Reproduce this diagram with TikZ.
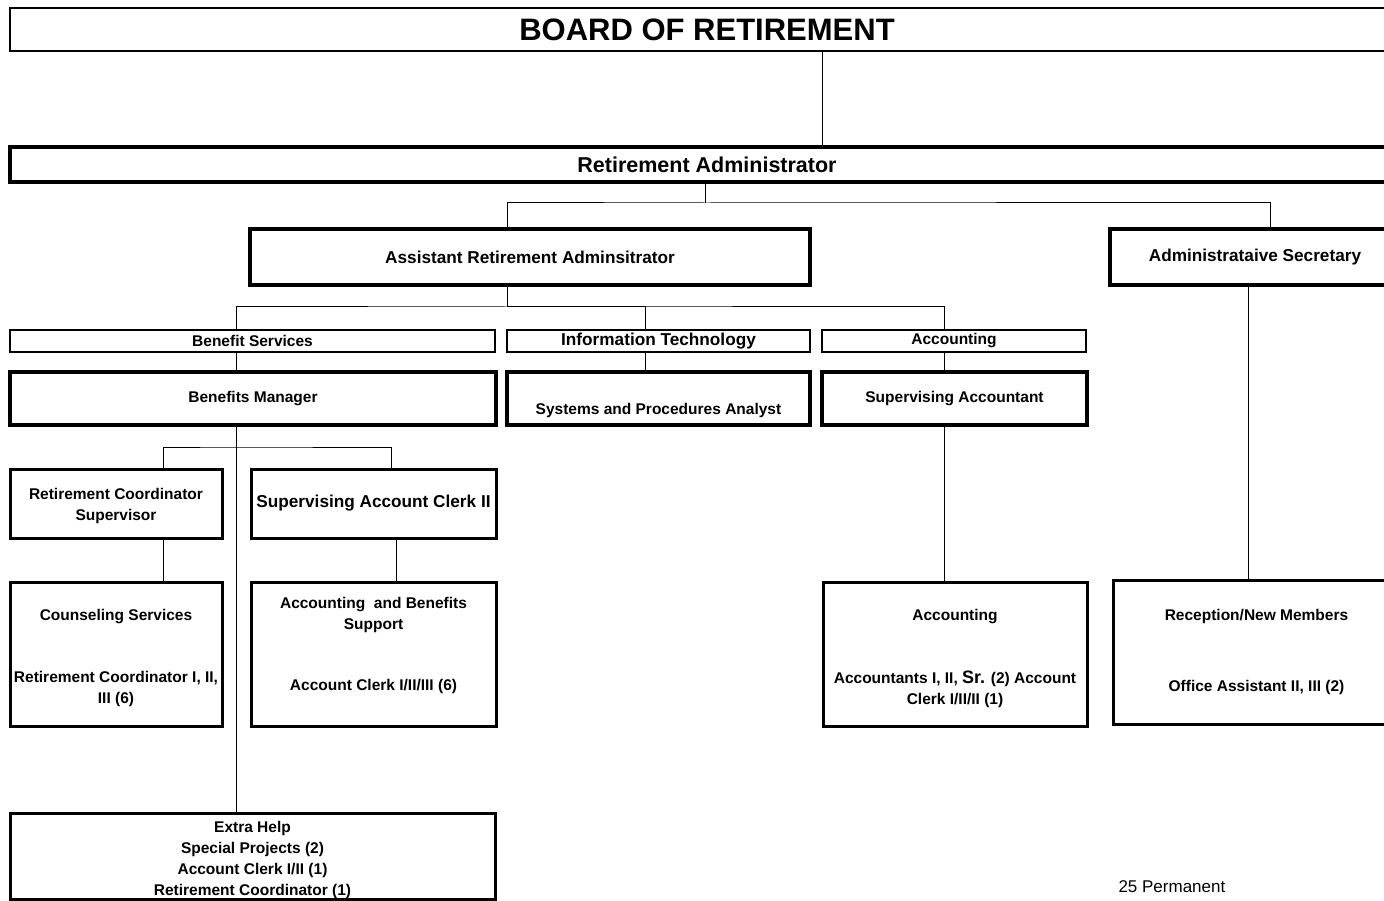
\documentclass[tikz,border=0pt]{standalone}
\usepackage{fontspec}
\setmainfont{Liberation Sans}

\begin{document}
\begin{tikzpicture}[x=1pt,y=-1pt,
    txt/.style={font=\fontsize{15.5}{21}\selectfont\bfseries,align=center},
    bigtxt/.style={font=\fontsize{17.2}{21}\selectfont\bfseries},
    box/.style={draw,rectangle,inner sep=0pt,txt},
    topbox/.style={box,line width=4pt},
    midbox/.style={box,line width=3pt},
    hdrbox/.style={box,line width=2.5pt},
    link/.style={line width=1pt}]
      \useasboundingbox (0,0) rectangle (1384,901);
      \clip (0,0) rectangle (1384,901);

      \node[box,line width=2pt,minimum width=1394,minimum height=43,font=\fontsize{31}{34}\selectfont\bfseries] (board) at (707,29.5) {BOARD OF RETIREMENT};
      \node[box,line width=4.5pt,minimum width=1394,minimum height=35,font=\fontsize{21.5}{24}\selectfont\bfseries] (ra) at (707,164.5) {Retirement Administrator};

      \node[topbox,bigtxt,minimum width=560,minimum height=56] (ara) at (530,257) {Assistant Retirement Adminsitrator};
      \node[topbox,bigtxt,minimum width=290,minimum height=56] (as) at (1255,257) {Administrataive Secretary};

      \node[hdrbox,minimum width=485,minimum height=22] (bs) at (252.5,341) {Benefit Services};
      \node[hdrbox,bigtxt,minimum width=303,minimum height=22] (it) at (658.5,341) {Information Technology};
      \node[hdrbox,minimum width=264,minimum height=22] (acc) at (954,341) {Accounting};

      \node[topbox,minimum width=486,minimum height=53] (bm) at (253,398.5) {Benefits Manager};
      \node[topbox,minimum width=303,minimum height=53] (spa) at (658.5,398.5) {};
      \node[txt] at ([yshift=-11.5pt]spa.center) {Systems and Procedures Analyst};
      \node[topbox,minimum width=265,minimum height=53] (sa) at (954.5,398.5) {Supervising Accountant};

      \node[midbox,minimum width=212,minimum height=69] (rcs) at (116,503.5) {};
      \node[txt] at ([yshift=-2pt]rcs.center) {Retirement Coordinator\\Supervisor};
      \node[midbox,bigtxt,minimum width=245,minimum height=69] (sac) at (373.5,503.5) {Supervising Account Clerk II};

      \node[midbox,minimum width=212,minimum height=144] (cs) at (116,654) {};
      \node[txt] at ([yshift=-4pt]cs.center) {Counseling Services\\[41pt]Retirement Coordinator I, II,\\III (6)};
      \node[midbox,minimum width=245,minimum height=144] (abs) at (373.5,654) {};
      \node[txt] at ([yshift=8.5pt]abs.center) {Accounting~ and Benefits\\Support\\[40pt]Account Clerk I/II/III (6)};
      \node[midbox,minimum width=264,minimum height=144] (acct) at (955,654) {};
      \node[txt] at ([yshift=-4pt]acct.center) {Accounting\\[42pt]Accountants I, II, {\fontsize{18}{21}\selectfont Sr.} (2) Account\\Clerk I/II/II (1)};
      \node[midbox,minimum width=287,minimum height=144] (rec) at (1256.5,652) {Reception/New Members\\[50pt]Office Assistant II, III (2)};

      \node[midbox,minimum width=485,minimum height=86] (eh) at (252.5,856) {};
      \node[txt] at ([yshift=-4pt]eh.center) {Extra Help\\Special Projects (2)\\Account Clerk I/II (1)\\Retirement Coordinator (1)};

      \node[anchor=west,font=\fontsize{17}{20}\selectfont] (perm) at (1115,887) {25 Permanent};

      \coordinate (ra-bus) at (705,203);
      \coordinate (ara-bus) at (507,307);
      \coordinate (bm-bus) at (236,447);

      \draw[link] ([xshift=115pt]board.south) -- ([xshift=115pt]ra.north);
      \draw[link] (ra.south -| ra-bus) -- (ra-bus);
      \draw[link] (ara.north -| ara-bus) |- (ra-bus) -| ([xshift=15pt]as.north);

      \draw[link] (ara.south -| ara-bus) -- (ara-bus);
      \draw[link] ([xshift=-16.5pt]bs.north) |- (ara-bus) -| ([xshift=-10pt]acc.north);
      \draw[link] ([xshift=-13.5pt]it.north) |- (ara-bus);

      \draw[link] ([xshift=-16.5pt]bs.south) -- ([xshift=-17pt]bm.north);
      \draw[link] ([xshift=-13.5pt]it.south) -- ([xshift=-13.5pt]spa.north);
      \draw[link] ([xshift=-10pt]acc.south) -- ([xshift=-10.5pt]sa.north);

      \draw[link] ([xshift=-17pt]bm.south) -- ([xshift=-16.5pt]eh.north);
      \draw[link] ([xshift=47pt]rcs.north) |- (bm-bus) -| ([xshift=17.5pt]sac.north);
      \draw[link] ([xshift=47pt]rcs.south) -- ([xshift=47pt]cs.north);
      \draw[link] ([xshift=22.5pt]sac.south) -- ([xshift=22.5pt]abs.north);

      \draw[link] ([xshift=-10.5pt]sa.south) -- ([xshift=-11pt]acct.north);
      \draw[link] ([xshift=-7pt]as.south) -- ([xshift=-8.5pt]rec.north);
    \end{tikzpicture}
\end{document}
